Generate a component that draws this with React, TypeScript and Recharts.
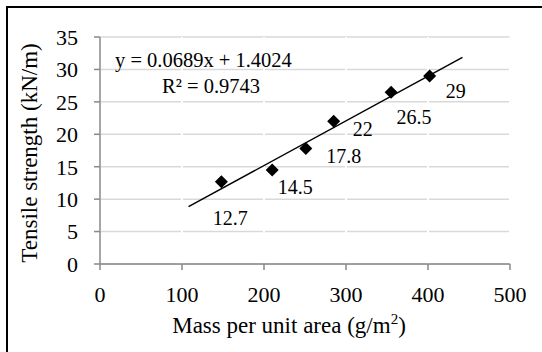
import React from "react";
import {
  ComposedChart, Scatter, XAxis, YAxis, CartesianGrid, ReferenceLine,
} from "recharts";

const massValues = [148, 210, 251, 285, 355, 402];
const strengthValues = [12.7, 14.5, 17.8, 22, 26.5, 29];
const pointLabels = ["12.7", "14.5", "17.8", "22", "26.5", "29"];
const xTicks = [0, 100, 200, 300, 400, 500];
const yTicks = [0, 5, 10, 15, 20, 25, 30, 35];
const slope = 0.0689;
const intercept = 1.4024;
const rSquared = 0.9743;
const trendFrom = 108;
const trendTo = 442;

// label placement relative to each marker (Excel moved them by hand)
const labelOffsets = [
  [9, 36], [23, 17], [38, 7], [29, 8], [23, 25], [26, 15],
];

const FONT = "'Liberation Serif', 'Times New Roman', serif";
const AXIS = "#898989";

const points = massValues.map((x, i) => ({ x, y: strengthValues[i], i }));

function Diamond(props: any) {
  const { cx, cy, payload } = props;
  const r = 6.5;
  const [dx, dy] = labelOffsets[payload.i];
  return (
    <g>
      <polygon
        points={`${cx},${cy - r} ${cx + r},${cy} ${cx},${cy + r} ${cx - r},${cy}`}
        fill="#000"
      />
      <text
        x={cx + dx}
        y={cy + dy}
        dy="0.35em"
        textAnchor="middle"
        fontFamily={FONT}
        fontSize={20}
        fill="#000"
      >
        {pointLabels[payload.i]}
      </text>
    </g>
  );
}

export default function App() {
  const tick = { fontSize: 22, fill: "#000", fontFamily: FONT };
  return (
    <div style={{ position: "absolute", left: 0, top: 0, width: 542, height: 352, background: "#fff" }}>
      <div style={{ position: "absolute", left: 6, top: 6, width: 536, height: 346, borderTop: "2px solid #000", borderLeft: "2px solid #000" }} />
      <ComposedChart
        width={542}
        height={352}
        data={points}
        margin={{ top: 37, right: 32, left: 40, bottom: 58 }}
        style={{ position: "absolute", left: 0, top: 0 }}
      >
        <CartesianGrid horizontal vertical={false} stroke="#d9d9d9" strokeWidth={1.5} />
        <CartesianGrid horizontal={false} vertical stroke="#ffffff" strokeWidth={2} />
        <XAxis
          type="number"
          dataKey="x"
          domain={[0, 500]}
          ticks={xTicks}
          tick={tick}
          tickSize={6}
          tickMargin={16}
          stroke={AXIS}
          strokeWidth={1.5}
          height={30}
        />
        <YAxis
          type="number"
          dataKey="y"
          domain={[0, 35]}
          ticks={yTicks}
          tick={tick}
          tickSize={6}
          tickMargin={16}
          stroke={AXIS}
          strokeWidth={1.5}
          width={60}
        />
        <ReferenceLine
          segment={[
            { x: trendFrom, y: slope * trendFrom + intercept },
            { x: trendTo, y: slope * trendTo + intercept },
          ]}
          stroke="#000"
          strokeWidth={1.5}
          ifOverflow="visible"
        />
        <Scatter data={points} dataKey="y" shape={<Diamond />} isAnimationActive={false} />
      </ComposedChart>
      <svg width={542} height={352} style={{ position: "absolute", left: 0, top: 0, pointerEvents: "none" }}>
        <text x={115} y={67} fontFamily={FONT} fontSize={20.5} fill="#000">
          {`y = ${slope}x + ${intercept}`}
        </text>
        <text x={162} y={93} fontFamily={FONT} fontSize={20.5} fill="#000">
          {`R² = ${rSquared}`}
        </text>
        <text
          transform="translate(37,153) rotate(-90)"
          textAnchor="middle"
          fontFamily={FONT}
          fontSize={23}
          fill="#000"
        >
          Tensile strength (kN/m)
        </text>
        <text x={289} y={333} textAnchor="middle" fontFamily={FONT} fontSize={23} fill="#000">
          Mass per unit area (g/m<tspan dy={-9} fontSize={15}>2</tspan><tspan dy={9}>)</tspan>
        </text>
      </svg>
    </div>
  );
}
